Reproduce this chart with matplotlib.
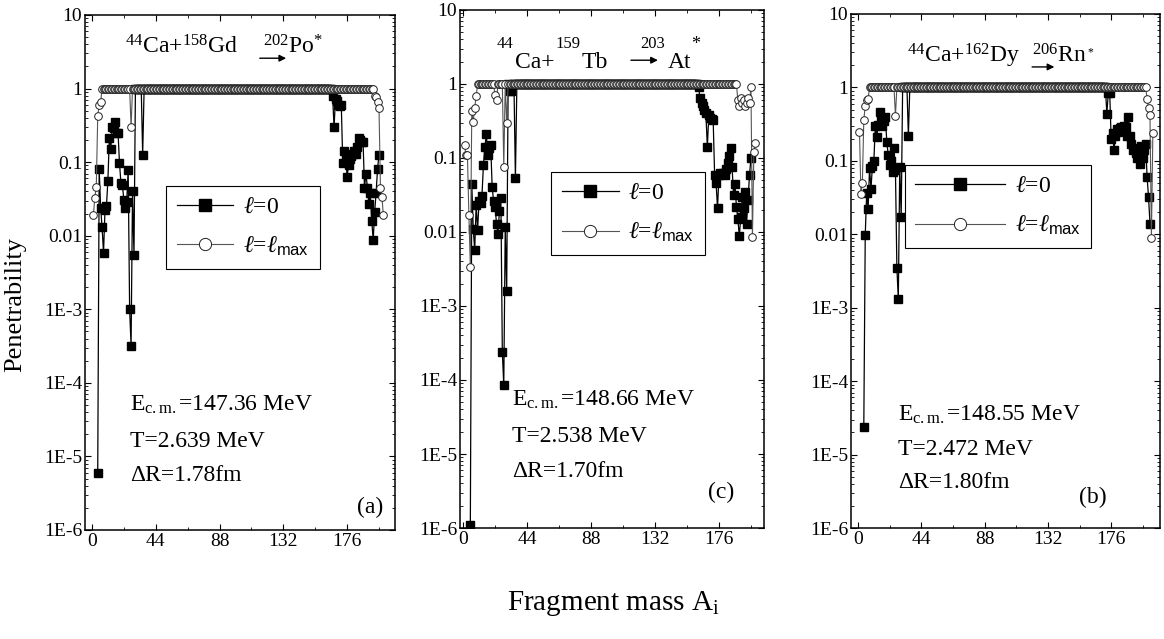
import numpy as np
import matplotlib
matplotlib.use('Agg')
import matplotlib.pyplot as plt
from matplotlib.ticker import FixedLocator, MultipleLocator, LogLocator, NullFormatter

plt.rcParams['font.family'] = ['Liberation Serif', 'DejaVu Serif']
plt.rcParams['mathtext.fontset'] = 'custom'
plt.rcParams['mathtext.rm'] = 'Liberation Serif'
plt.rcParams['mathtext.it'] = 'Liberation Serif:italic'
plt.rcParams['mathtext.sf'] = 'Liberation Sans'

# --- data (fragment mass A_i -> penetrability) ---
# wings are listed point by point, between them the penetrability is 1
plateau = 1.0

# (a) 44Ca+158Gd -> 202Po*
a_l0_left_start = 4
a_l0_left = [6e-6, 0.08, 0.024, 0.013, 0.0059, 0.022, 0.025, 0.056, 0.21, 0.15, 0.30,
             0.29, 0.35, 0.25, 0.25, 0.098, 0.052, 0.049, 0.031, 0.024, 0.029, 0.079,
             1e-3, 3.2e-4, 0.04, 0.0054, 1, 1, 1, 1, 1, 0.126, 1]
a_l0_right_start = 164
a_l0_right = [1, 1, 0.79, 0.30, 0.72, 0.67, 0.6, 0.57, 0.6, 0.098, 0.14, 0.12, 0.063,
              0.09, 0.11, 0.12, 0.13, 0.14, 0.13, 0.16, 0.21, 0.2, 0.19, 0.19, 0.045,
              0.07, 0.045, 0.027, 0.038, 0.016, 0.0087, 0.021, 0.038, 0.081, 0.126]
a_lmax_left_start = 1
a_lmax_left = [0.019, 0.033, 0.046, 0.42, 0.60, 0.65, 1, 1, 1, 1, 1, 1, 1, 1, 1, 1, 1,
               1, 1, 1, 1, 1, 1, 1, 1, 1, 0.30, 1]
a_lmax_right_start = 194
a_lmax_right = [1, 0.8, 0.77, 0.65, 0.55, 0.045, 0.034, 0.019]

# (c) 44Ca+159Tb -> 203At*
c_l0_left_start = 5
c_l0_left = [1.1e-6, 0.044, 0.011, 0.0057, 0.023, 0.0107, 0.026, 0.025, 0.031, 0.081,
             0.14, 0.21, 0.11, 0.135, 0.15, 0.041, 0.026, 0.022, 0.013, 0.0093, 0.019,
             0.029, 2.4e-4, 8.5e-5, 0.0115, 1.6e-3, 1, 0.8, 0.8, 1, 1, 0.053, 1]
c_l0_right_start = 161
c_l0_right = [1, 0.9, 0.64, 0.55, 0.5, 0.45, 0.4, 0.14, 0.38, 0.35, 0.34, 0.33, 0.059,
              0.046, 0.021, 0.058, 0.063, 0.06, 0.063, 0.059, 0.07, 0.085, 0.105, 0.135,
              0.076, 0.032, 0.044, 0.022, 0.015, 0.0087, 0.016, 0.03, 0.021, 0.035,
              0.013, 0.027, 0.059, 0.1]
c_lmax_left_start = 1
c_lmax_left = [0.15, 0.11, 0.11, 0.017, 0.0034, 0.43, 0.31, 0.48, 0.68, 1, 1, 1, 1, 1,
               1, 1, 1, 1, 1, 1, 1, 0.7, 0.6, 1, 1, 1, 1, 0.076, 1, 0.3, 1]
c_lmax_right_start = 188
c_lmax_right = [1, 0.6, 0.5, 0.65, 0.55, 0.6, 0.5, 0.55, 0.65, 0.55, 0.9, 0.0085, 0.12, 0.16]

# (b) 44Ca+162Dy -> 206Rn*
b_l0_left_start = 4
b_l0_left = [2.4e-5, 0.0097, 0.037, 0.022, 0.079, 0.042, 0.085, 0.1, 0.3, 0.21, 0.31,
             0.47, 0.37, 0.3, 0.35, 0.4, 0.18, 0.12, 0.087, 0.1, 0.071, 0.15, 0.076,
             3.5e-3, 1.3e-3, 0.083, 0.017, 1, 1, 1, 1, 0.22, 1]
b_l0_right_start = 172
b_l0_right = [1, 0.44, 0.83, 0.85, 0.2, 0.24, 0.14, 0.22, 0.27, 0.25, 0.28, 0.29, 0.26,
              0.3, 0.29, 0.22, 0.4, 0.22, 0.17, 0.14, 0.15, 0.126, 0.11, 0.13, 0.09,
              0.16, 0.11, 0.14, 0.17, 0.06, 0.032, 0.014]
b_lmax_left_start = 1
b_lmax_left = [0.25, 0.035, 0.05, 0.36, 0.56, 0.67, 0.7] + [1] * 18 + [0.41, 1]
b_lmax_right_start = 200
b_lmax_right = [1, 0.7, 0.52, 0.42, 0.009, 0.24]

x_ticks = [0, 44, 88, 132, 176]
y_ticks = [1e-6, 1e-5, 1e-4, 1e-3, 1e-2, 1e-1, 1, 10]
y_ticklabels = ['1E-6', '1E-5', '1E-4', '1E-3', '0.01', '0.1', '1', '10']


def series(left_start, left, right_start, right):
    n_mid = right_start - (left_start + len(left))
    p = list(left) + [plateau] * n_mid + list(right)
    a = np.arange(left_start, left_start + len(p))
    return a, np.array(p)


fig = plt.figure(figsize=(11.64, 6.39), dpi=100)

panels = [
    dict(rect=[0.0730, 0.1706, 0.2663, 0.8060], xlim=(-4.8, 209),
         l0=(a_l0_left_start, a_l0_left, a_l0_right_start, a_l0_right),
         lm=(a_lmax_left_start, a_lmax_left, a_lmax_right_start, a_lmax_right),
         leg=(0.262, 0.668), hl=2.4, tag='(a)', tagpos=(0.877, 0.043),
         info=['E$_{\\rm c.m.}$=147.36 MeV', 'T=2.639 MeV', '\u0394R=1.78fm'],
         infopos=(0.145, [0.243, 0.171, 0.105])),
    dict(rect=[0.3952, 0.1737, 0.2612, 0.8107], xlim=(-2.1, 207),
         l0=(c_l0_left_start, c_l0_left, c_l0_right_start, c_l0_right),
         lm=(c_lmax_left_start, c_lmax_left, c_lmax_right_start, c_lmax_right),
         leg=(0.30, 0.687), hl=2.4, tag='(c)', tagpos=(0.816, 0.068),
         info=['E$_{\\rm c.m.}$=148.66 MeV', 'T=2.538 MeV', '\u0394R=1.70fm'],
         infopos=(0.171, [0.247, 0.176, 0.110])),
    dict(rect=[0.7311, 0.1737, 0.2655, 0.8044], xlim=(-4.9, 210),
         l0=(b_l0_left_start, b_l0_left, b_l0_right_start, b_l0_right),
         lm=(b_lmax_left_start, b_lmax_left, b_lmax_right_start, b_lmax_right),
         leg=(0.174, 0.706), hl=3.8, tag='(b)', tagpos=(0.739, 0.060),
         info=['E$_{\\rm c.m.}$=148.55 MeV', 'T=2.472 MeV', '\u0394R=1.80fm'],
         infopos=(0.152, [0.220, 0.152, 0.088])),
]

axes = []
for p in panels:
    ax = fig.add_axes(p['rect'])
    axes.append(ax)
    A0, P0 = series(*p['l0'])
    Am, Pm = series(*p['lm'])

    h0, = ax.plot(A0, P0, '-s', color='black', lw=0.9, ms=5.3, mfc='black', mec='black',
                  zorder=2, label=r'$\ell$=0')
    hm, = ax.plot(Am, Pm, '-o', color='#555555', lw=0.8, ms=5.5, mfc='white',
                  mec='#222222', mew=0.7, zorder=3, label=r'$\ell$=$\ell_{\mathsf{max}}$')

    ax.set_yscale('log')
    ax.set_ylim(1e-6, 10)
    ax.set_xlim(*p['xlim'])
    ax.yaxis.set_major_locator(FixedLocator(y_ticks))
    ax.set_yticklabels(y_ticklabels)
    ax.yaxis.set_minor_locator(LogLocator(base=10, subs=np.arange(2, 10)))
    ax.yaxis.set_minor_formatter(NullFormatter())
    ax.set_xticks(x_ticks)
    ax.xaxis.set_minor_locator(MultipleLocator(22))
    ax.tick_params(which='both', direction='in', top=True, right=True, labelsize=14, pad=2)
    ax.tick_params(which='major', length=4)
    ax.tick_params(which='minor', length=2)
    for s in ax.spines.values():
        s.set_linewidth(1.1)

    leg = ax.legend(handles=[h0, hm], loc='upper left', bbox_to_anchor=p['leg'],
                    fontsize=17, frameon=True, fancybox=False, edgecolor='black',
                    framealpha=1, handlelength=p['hl'], handletextpad=0.4,
                    labelspacing=0.7, borderpad=0.45, borderaxespad=0, markerscale=1.6)
    leg.get_frame().set_linewidth(0.8)

    ix, iys = p['infopos']
    for txt, iy in zip(p['info'], iys):
        ax.text(ix, iy, txt, transform=ax.transAxes, fontsize=17, va='center', ha='left')
    ax.text(p['tagpos'][0], p['tagpos'][1], p['tag'], transform=ax.transAxes,
            fontsize=17, va='center', ha='left')

arrow = dict(arrowstyle='-|>', color='black', lw=1.0, mutation_scale=10)

# titles
ax = axes[0]
ax.text(0.129, 0.926, r'$^{44}$Ca+$^{158}$Gd', transform=ax.transAxes, fontsize=17,
        va='baseline')
ax.text(0.574, 0.926, r'$^{202}$Po$^{*}$', transform=ax.transAxes, fontsize=17,
        va='baseline')
ax.annotate('', xy=(0.658, 0.916), xytext=(0.555, 0.916), xycoords='axes fraction',
            arrowprops=arrow)

ax = axes[1]
for s, x, y, fs in [('44', 0.122, 0.927, 12), ('Ca+', 0.181, 0.888, 17),
                    ('159', 0.3125, 0.927, 12), ('Tb', 0.401, 0.888, 17),
                    ('203', 0.592, 0.927, 12), ('At', 0.684, 0.888, 17),
                    ('*', 0.76, 0.925, 13)]:
    ax.text(x, y, s, transform=ax.transAxes, fontsize=fs, va='baseline')
ax.annotate('', xy=(0.66, 0.903), xytext=(0.553, 0.903), xycoords='axes fraction',
            arrowprops=arrow)

ax = axes[2]
ax.text(0.181, 0.905, r'$^{44}$Ca+$^{162}$Dy', transform=ax.transAxes, fontsize=17,
        va='baseline')
ax.text(0.587, 0.905, r'$^{206}$Rn$^{_*}$', transform=ax.transAxes, fontsize=17,
        va='baseline')
ax.annotate('', xy=(0.667, 0.897), xytext=(0.577, 0.897), xycoords='axes fraction',
            arrowprops=arrow)

fig.text(0.013, 0.523, 'Penetrability', rotation=90, fontsize=19, va='center', ha='center')
fig.text(0.527, 0.056, r'Fragment mass A$_{\rm i}$', fontsize=21, va='center', ha='center')

fig.savefig('out.png', dpi=100)
